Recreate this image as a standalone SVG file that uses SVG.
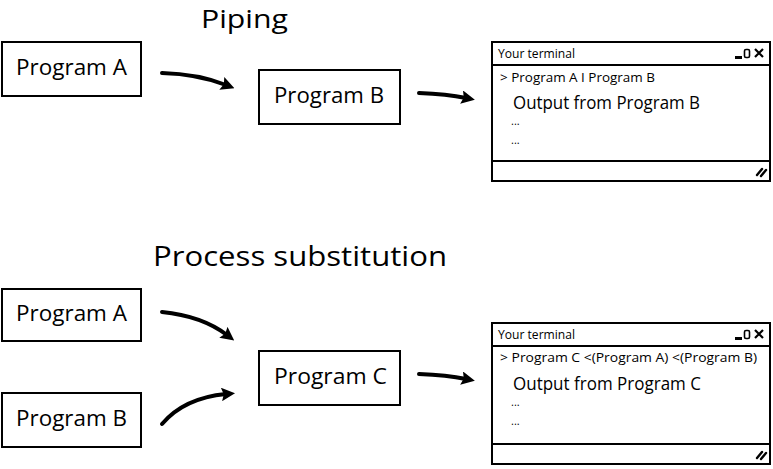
<svg xmlns="http://www.w3.org/2000/svg" width="773" height="469" viewBox="0 0 773 469">
<style>
text{font-family:"Open Sans","Liberation Sans",sans-serif;fill:#000}
.box{fill:#fff;stroke:#000;stroke-width:2}
.lbl{font-size:21px}
.ttl{font-size:27px}
.tt{font-size:12.5px}
.cmd{font-size:13px}
.out{font-size:18px}
.dots{font-size:11px}
.arr{fill:none;stroke:#000;stroke-width:4;stroke-linecap:round}
</style>
<defs>
<marker id="ah" viewBox="0 0 12 12" refX="4" refY="6" markerWidth="3.4" markerHeight="3.4" orient="auto" markerUnits="strokeWidth">
<path d="M0,0 L12,6 L0,12 L2,6 Z" fill="#000"/>
</marker>
</defs>
<text x="201" y="28" style="font-size:25px" textLength="87" lengthAdjust="spacingAndGlyphs">Piping</text>
<text class="ttl" x="153" y="266" textLength="294" lengthAdjust="spacingAndGlyphs">Process substitution</text>
<g id="pipeA"><rect class="box" x="2" y="42" width="139" height="54"/><text class="lbl" x="16" y="75" textLength="111" lengthAdjust="spacingAndGlyphs">Program A</text></g>
<g id="pipeB"><rect class="box" x="259" y="70" width="141" height="54"/><text class="lbl" x="274" y="103" textLength="110" lengthAdjust="spacingAndGlyphs">Program B</text></g>
<g id="term1">
<rect class="box" x="492" y="42" width="278" height="139"/>
<line x1="492" y1="65" x2="770" y2="65" stroke="#000" stroke-width="2"/>
<line x1="492" y1="161" x2="770" y2="161" stroke="#000" stroke-width="2"/>
<text class="tt" x="498" y="58" textLength="77" lengthAdjust="spacingAndGlyphs">Your terminal</text>
<rect x="735" y="56" width="7" height="3" fill="#000"/>
<rect x="744.5" y="49.5" width="5" height="8" rx="1.5" fill="none" stroke="#000" stroke-width="1.6"/>
<path d="M755,49 L763,57 M763,49 L755,57" stroke="#000" stroke-width="2.2"/>
<path d="M757,175 L762,169 M761,176 L766,170" stroke="#000" stroke-width="2.4" stroke-linecap="round"/>
<text class="cmd" x="500" y="82" textLength="155" lengthAdjust="spacingAndGlyphs">&gt; Program A I Program B</text>
<text class="out" x="513" y="109" textLength="187" lengthAdjust="spacingAndGlyphs">Output from Program B</text>
<text class="dots" x="511" y="125">...</text>
<text class="dots" x="511" y="144">...</text>
</g>
<g id="psA"><rect class="box" x="2" y="289" width="139" height="52"/><text class="lbl" x="16" y="321" textLength="111" lengthAdjust="spacingAndGlyphs">Program A</text></g>
<g id="psB"><rect class="box" x="2" y="393" width="139" height="54"/><text class="lbl" x="16" y="426" textLength="111" lengthAdjust="spacingAndGlyphs">Program B</text></g>
<g id="psC"><rect class="box" x="259" y="351" width="141" height="54"/><text class="lbl" x="274" y="384" textLength="113" lengthAdjust="spacingAndGlyphs">Program C</text></g>
<g id="term2">
<rect class="box" x="492" y="323" width="278" height="141"/>
<line x1="492" y1="346" x2="770" y2="346" stroke="#000" stroke-width="2"/>
<line x1="492" y1="444" x2="770" y2="444" stroke="#000" stroke-width="2"/>
<text class="tt" x="498" y="339" textLength="77" lengthAdjust="spacingAndGlyphs">Your terminal</text>
<rect x="735" y="337" width="7" height="3" fill="#000"/>
<rect x="744.5" y="330.5" width="5" height="8" rx="1.5" fill="none" stroke="#000" stroke-width="1.6"/>
<path d="M755,330 L763,338 M763,330 L755,338" stroke="#000" stroke-width="2.2"/>
<path d="M757,458 L762,452 M761,459 L766,453" stroke="#000" stroke-width="2.4" stroke-linecap="round"/>
<text class="cmd" x="500" y="362" textLength="257" lengthAdjust="spacingAndGlyphs">&gt; Program C &lt;(Program A) &lt;(Program B)</text>
<text class="out" x="513" y="390" textLength="188" lengthAdjust="spacingAndGlyphs">Output from Program C</text>
<text class="dots" x="511" y="406">...</text>
<text class="dots" x="511" y="425">...</text>
</g>
<g id="connectors">
<path class="arr" d="M162,73 Q198,74 226,85" marker-end="url(#ah)"/>
<path class="arr" d="M419,93 Q447,94 466,98" marker-end="url(#ah)"/>
<path class="arr" d="M162,312 Q202,316 227,335" marker-end="url(#ah)"/>
<path class="arr" d="M162,424 Q184,398 226,394" marker-end="url(#ah)"/>
<path class="arr" d="M419,374 Q447,375 466,379" marker-end="url(#ah)"/>
</g>
</svg>
